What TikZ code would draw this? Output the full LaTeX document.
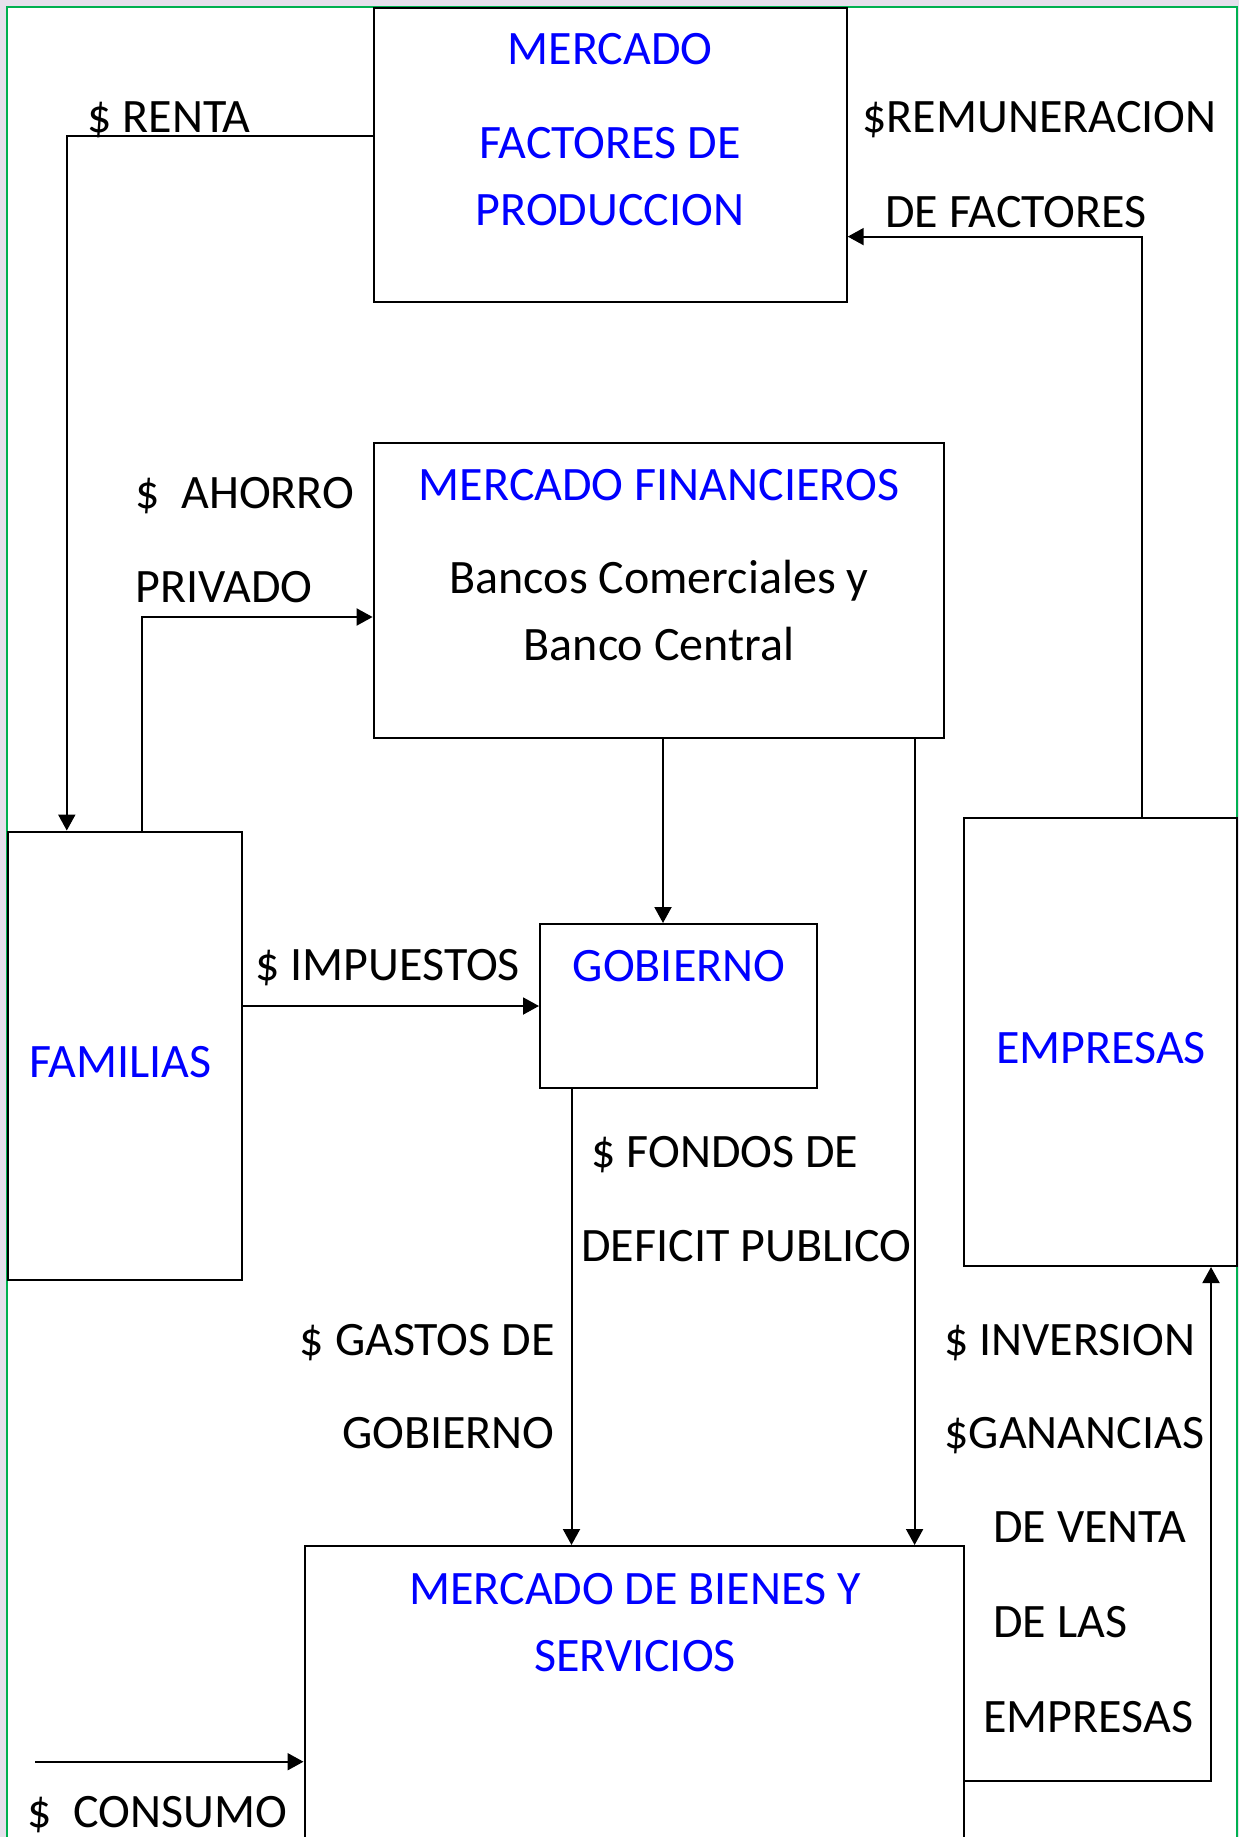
\documentclass[tikz,border=0pt]{standalone}
\usepackage{fontspec}
\setmainfont{Carlito}
\usepackage{tikz}
\usetikzlibrary{calc,arrows.meta}
\definecolor{lavanda}{RGB}{230,224,236}
\definecolor{verde}{RGB}{0,176,80}
\definecolor{azul}{RGB}{0,0,255}
\tikzset{
caja/.style={line width=1pt,rectangle,draw=black,fill=white,inner sep=0pt},
flujo/.style={line width=1pt,draw=black,-{Triangle[length=8pt,width=8.5pt]}},
etiq/.style={inner sep=0pt,font=\fontsize{24}{29}\selectfont},
titulo/.style={etiq,text=azul},
}
\begin{document}
\begin{tikzpicture}[x=0.5pt,y=-0.5pt]
\clip (0,0) rectangle (1239,1837);
\fill[lavanda] (0,0) rectangle (1239,1837);
\fill[white] (7,7) rectangle (1237,1850);
\draw[verde,line width=1.2pt] (7,1850) -- (7,7) -- (1237,7) -- (1237,1850);

\node[caja,minimum width=236.5pt,minimum height=147pt] (fact) at (610.2,155) {};
\node[caja,minimum width=285.2pt,minimum height=147.5pt] (fin) at (658.8,590.3) {};
\node[caja,minimum width=117.2pt,minimum height=224.25pt] (fam) at (125.2,1055.8) {};
\node[caja,minimum width=138.7pt,minimum height=82pt] (gob) at (678.7,1006) {};
\node[caja,minimum width=136.35pt,minimum height=224.25pt] (emp) at (1100.35,1041.75) {};
\node[caja,minimum width=329.75pt,minimum height=177pt] (bienes) at (634.25,1723) {};

\node[titulo,anchor=base] (tfact1) at (610,64) {MERCADO};
\node[titulo,anchor=base] (tfact2) at (610,158) {FACTORES DE};
\node[titulo,anchor=base] (tfact3) at (610,225) {PRODUCCION};
\node[titulo,anchor=base] (tfin1) at (659,500) {MERCADO FINANCIEROS};
\node[etiq,anchor=base] (tfin2) at (659,593) {Bancos Comerciales y};
\node[etiq,anchor=base] (tfin3) at (659,660) {Banco Central};
\node[titulo,anchor=base] (tfam) at (120.6,1077) {FAMILIAS};
\node[titulo,anchor=base] (tgob) at (679,981) {GOBIERNO};
\node[titulo,anchor=base] (temp) at (1101,1063) {EMPRESAS};
\node[titulo,anchor=base] (tbien1) at (635,1604) {MERCADO DE BIENES Y};
\node[titulo,anchor=base] (tbien2) at (635,1671) {SERVICIOS};

\node[etiq,anchor=base west] (lrenta) at (87,132) {\$ RENTA};
\node[etiq,anchor=base west] (lremun1) at (862,132) {\$REMUNERACION};
\node[etiq,anchor=base west] (lremun2) at (885,227) {DE FACTORES};
\node[etiq,anchor=base west] (lahorro1) at (135,508) {\$\ \ AHORRO};
\node[etiq,anchor=base west] (lahorro2) at (135,602) {PRIVADO};
\node[etiq,anchor=base west] (limp) at (255,980) {\$ IMPUESTOS};
\node[etiq,anchor=base west] (lfondo1) at (591,1167) {\$ FONDOS DE};
\node[etiq,anchor=base west] (lfondo2) at (581,1261) {DEFICIT PUBLICO};
\node[etiq,anchor=base east] (lgasto1) at (555,1355) {\$ GASTOS DE};
\node[etiq,anchor=base east] (lgasto2) at (555,1448) {GOBIERNO};
\node[etiq,anchor=base west] (linv1) at (944,1355) {\$ INVERSION};
\node[etiq,anchor=base west] (linv2) at (944,1448) {\$GANANCIAS};
\node[etiq,anchor=base west] (linv3) at (993,1542) {DE VENTA};
\node[etiq,anchor=base west] (linv4) at (993,1637) {DE LAS};
\node[etiq,anchor=base west] (linv5) at (983,1732) {EMPRESAS};
\node[etiq,anchor=base west] (lcons) at (27,1827) {\$\ \ CONSUMO};

\coordinate (f1) at ($(fin.south)+(4.2,0)$);
\coordinate (f2) at ($(fin.south)+(255.8,0)$);
\coordinate (g1) at ($(gob.south)+(-107.2,0)$);
\coordinate (c0) at (35,1761.7);
\draw[flujo] ($(fact.west)+(0,-19)$) -| ($(fam.north)+(-58.4,0)$);
\draw[flujo] ($(emp.north)+(41.65,0)$) |- ($(fact.east)+(0,81.6)$);
\draw[flujo] ($(fam.north)+(16.5,0)$) |- ($(fin.west)+(0,26.7)$);
\draw[flujo] (f1) -- (f1 |- gob.north);
\draw[flujo] (f2) -- (f2 |- bienes.north);
\draw[flujo] (fam.east |- gob.west) -- (gob.west);
\draw[flujo] (g1) -- (g1 |- bienes.north);
\draw[flujo] ($(bienes.east)+(0,58)$) -| ($(emp.south)+(110.65,0)$);
\draw[flujo] (c0) -- (c0 -| bienes.west);
\end{tikzpicture}
\end{document}
